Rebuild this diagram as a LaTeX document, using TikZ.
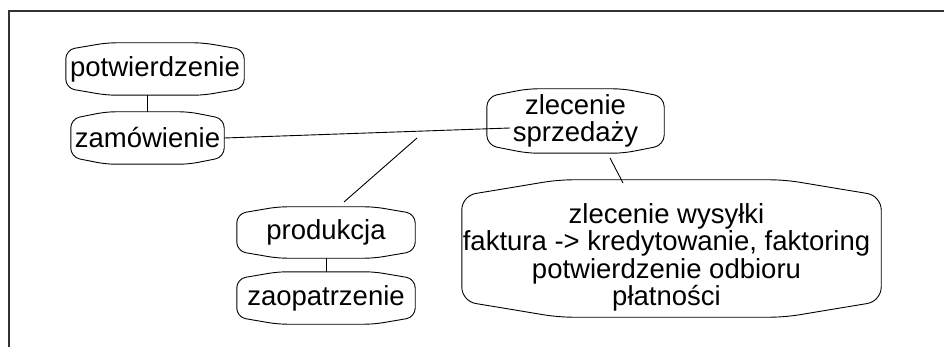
\documentclass[tikz,border=0pt]{standalone}
\usepackage{fontspec}
\setmainfont{Liberation Sans}
\usetikzlibrary{calc}
\tikzset{
  boxnode/.style={inner sep=0pt, font=\fontsize{27.5}{27.5}\selectfont, align=center},
  boxline/.style={draw=black, line width=0.9pt},
  link/.style={draw=black, line width=0.9pt},
  frame/.style={draw=black!80, line width=1.1pt}
}
% draws the barrel-like outline round a named node: name, bow, corner radius
\newcommand{\blobshape}[3]{%
  \draw[boxline, rounded corners=#3]
    let \p1=(#1.south west), \p2=(#1.north east),
        \p3=($(#1.south west)!0.23!(#1.south east)$),
        \p4=($(#1.south west)!0.77!(#1.south east)$) in
    (\x1,{0.5*(\y1+\y2)}) -- (\x1,\y2-#2) -- (\x3,\y2) -- (\x4,\y2) -- (\x2,\y2-#2)
    -- (\x2,\y1+#2) -- (\x4,\y1) -- (\x3,\y1) -- (\x1,\y1+#2) -- cycle;}
\begin{document}
\begin{tikzpicture}[x=1pt, y=-1pt]
\useasboundingbox (0,0) rectangle (944,347);
\draw[frame] (9,347) -- (9,11) -- (944,11);

\node[boxnode, minimum width=178pt, minimum height=52pt] (potw) at (155,69) {potwierdzenie};
\node[boxnode, minimum width=153pt, minimum height=52pt] (zam) at (147.5,138) {zamówienie};
\node[boxnode, minimum width=177pt, minimum height=64pt] (zlec) at (575.5,121) {zlecenie\\sprzedaży};
\node[boxnode, minimum width=178pt, minimum height=51pt] (prod) at (326,232.5) {produkcja};
\node[boxnode, minimum width=178pt, minimum height=52pt] (zaop) at (326,298) {zaopatrzenie};
\node[boxnode, minimum width=419pt, minimum height=137pt,
      label={[boxnode, xshift=-5pt, yshift=-9pt]center:{zlecenie wysyłki\\faktura -> kredytowanie, faktoring\\potwierdzenie odbioru\\płatności}}]
      (big) at (671.5,248.5) {};

\blobshape{potw}{7pt}{9pt}
\blobshape{zam}{7pt}{9pt}
\blobshape{zlec}{8pt}{10pt}
\blobshape{prod}{7pt}{9pt}
\blobshape{zaop}{7pt}{9pt}
\blobshape{big}{16pt}{14pt}

\coordinate (zin) at (510,128);
\coordinate (d1) at (344,202);
\coordinate (d2) at (417,138);
\coordinate (s1) at (610,158);
\coordinate (s2) at (623,183);

\draw[link] (zam.north) -- (zam.north |- potw.south);
\draw[link] (zam.east) -- (zin);
\draw[link] (d1) -- (d2);
\draw[link] (s1) -- (s2);
\draw[link] (prod.south) -- (zaop.north);
\end{tikzpicture}
\end{document}
